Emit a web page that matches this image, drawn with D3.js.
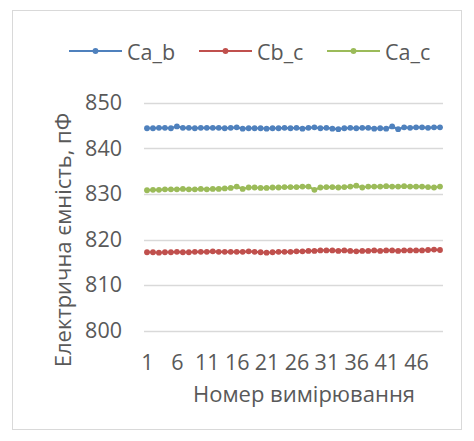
<!DOCTYPE html>
<html><head><meta charset="utf-8">
<script src="https://cdn.jsdelivr.net/npm/d3@7"></script>
<style>
html,body{margin:0;padding:0;background:#fff;}
text{font-family:"Open Sans","Noto Sans",sans-serif;fill:#595959;}
</style></head>
<body><svg id="c" width="474" height="441"></svg>
<script>
const seriesNames = ["Ca_b", "Cb_c", "Ca_c"];
const seriesColors = ["#4F81BD", "#C0504D", "#9BBB59"];
const xTickLabels = [1, 6, 11, 16, 21, 26, 31, 36, 41, 46];
const yTicks = [800, 810, 820, 830, 840, 850];
const caB = [844.4,844.4,844.5,844.5,844.4,844.8,844.5,844.5,844.4,844.5,
 844.5,844.5,844.5,844.4,844.5,844.6,844.3,844.4,844.4,844.4,
 844.3,844.4,844.4,844.5,844.4,844.5,844.3,844.5,844.6,844.4,
 844.5,844.3,844.2,844.4,844.5,844.4,844.5,844.5,844.3,844.4,
 844.3,844.8,844.2,844.6,844.5,844.6,844.6,844.5,844.6,844.6];
const cbC = [817.2,817.2,817.1,817.2,817.2,817.3,817.2,817.2,817.3,817.3,
 817.3,817.4,817.3,817.3,817.3,817.3,817.3,817.4,817.3,817.2,
 817.1,817.2,817.3,817.3,817.3,817.4,817.4,817.5,817.5,817.6,
 817.6,817.6,817.5,817.6,817.5,817.4,817.5,817.5,817.6,817.5,
 817.6,817.6,817.5,817.6,817.6,817.6,817.6,817.7,817.8,817.7];
const caC = [830.8,830.9,830.9,831.0,831.0,831.0,831.1,831.0,831.0,831.1,
 831.0,831.1,831.1,831.2,831.3,831.6,831.1,831.4,831.4,831.3,
 831.3,831.4,831.4,831.5,831.5,831.5,831.6,831.6,830.9,831.4,
 831.5,831.5,831.4,831.5,831.6,831.8,831.4,831.6,831.6,831.6,
 831.7,831.6,831.6,831.7,831.6,831.6,831.6,831.5,831.4,831.6];
const yTitle = "Електрична ємність, пФ";
const xTitle = "Номер вимірювання";

const series = [caB, cbC, caC];
const idx = d3.range(1, caB.length + 1);

const svg = d3.select("#c");
const L = 144, R = 443, T = 102.7, B = 330.7;
const FS = 21.5;

svg.append("rect").attr("x", 12.5).attr("y", 10.5).attr("width", 449).attr("height", 419)
  .attr("fill", "#fff").attr("stroke", "#d9d9d9").attr("stroke-width", 1);

const x = d3.scalePoint().domain(idx).range([L, R]).padding(0.5);
const y = d3.scaleLinear().domain([800, 850]).range([B, T]);

// gridlines
svg.append("g").selectAll("line").data(yTicks).join("line")
  .attr("x1", L).attr("x2", R)
  .attr("y1", d => Math.round(y(d)) + 0.5).attr("y2", d => Math.round(y(d)) + 0.5)
  .attr("stroke", "#d9d9d9").attr("stroke-width", 1.3);

// y labels
const yAxis = d3.axisLeft(y).tickValues(yTicks).tickSize(0).tickPadding(0);
const yg = svg.append("g").attr("transform", `translate(${L - 22},0)`).call(yAxis);
yg.select(".domain").remove();
yg.selectAll("text").attr("font-size", FS).attr("fill", "#595959").attr("font-family", "Open Sans");

// x labels
const xAxis = d3.axisBottom(x).tickValues(xTickLabels).tickSize(0).tickPadding(0);
const xg = svg.append("g").attr("transform", `translate(0,${B + 32})`).call(xAxis);
xg.select(".domain").remove();
xg.selectAll("text").attr("font-size", FS).attr("fill", "#595959").attr("font-family", "Open Sans")
  .attr("dy", "0.32em");

// lines
const line = d3.line().x((d, i) => x(idx[i])).y(d => y(d));
series.forEach((s, k) => {
  svg.append("path").datum(s).attr("d", line).attr("fill", "none")
    .attr("stroke", seriesColors[k]).attr("stroke-width", 2.2).attr("stroke-linejoin", "round");
  svg.append("g").selectAll("circle").data(s).join("circle")
    .attr("cx", (d, i) => x(idx[i])).attr("cy", d => y(d)).attr("r", 2.9)
    .attr("fill", seriesColors[k]);
});

// axis titles
svg.append("text").attr("x", 304).attr("y", 393).attr("text-anchor", "middle")
  .attr("dominant-baseline", "central").attr("font-size", 22).text(xTitle);
svg.append("text").attr("transform", "translate(62,240) rotate(-90)").attr("text-anchor", "middle")
  .attr("dominant-baseline", "central").attr("font-size", 22).text(yTitle);

// legend
const legX = [69, 199, 327];
const lg = svg.append("g");
seriesNames.forEach((n, k) => {
  const g = lg.append("g").attr("transform", `translate(${legX[k]},51)`);
  g.append("line").attr("x1", 0).attr("x2", 53).attr("y1", 0).attr("y2", 0)
    .attr("stroke", seriesColors[k]).attr("stroke-width", 2.2);
  g.append("circle").attr("cx", 26.5).attr("cy", 0).attr("r", 2.9).attr("fill", seriesColors[k]);
  g.append("text").attr("x", 58).attr("y", 0).attr("dominant-baseline", "central")
    .attr("font-size", FS).text(n);
});
</script></body></html>
